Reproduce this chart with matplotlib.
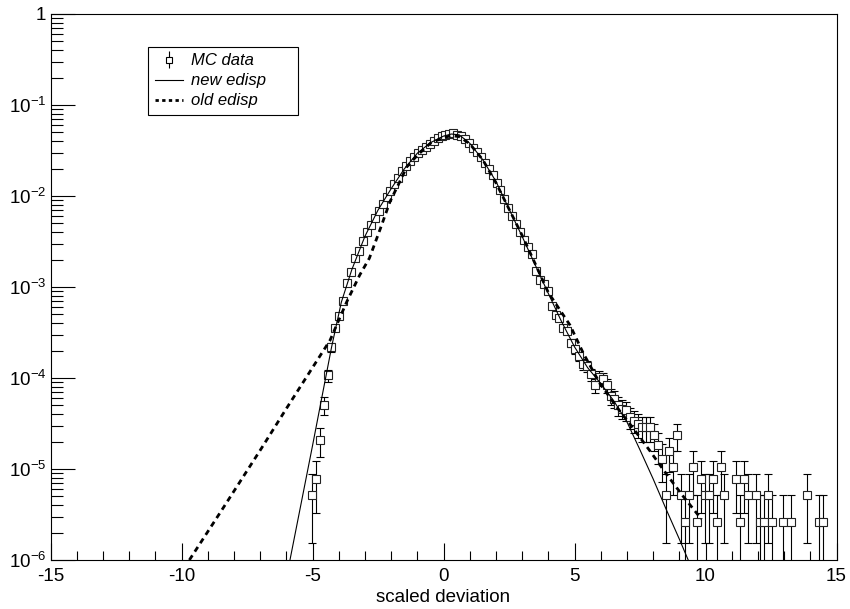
import numpy as np
import matplotlib
matplotlib.use("Agg")
import matplotlib.pyplot as plt
from matplotlib.ticker import MultipleLocator, LogLocator, FixedLocator, NullFormatter

plt.rcParams['font.family'] = ['Liberation Sans', 'DejaVu Sans']
plt.rcParams['mathtext.fontset'] = 'custom'
plt.rcParams['mathtext.rm'] = 'Liberation Sans'
plt.rcParams['mathtext.it'] = 'Liberation Sans:italic'
plt.rcParams['mathtext.default'] = 'regular'
plt.rcParams['axes.unicode_minus'] = False

# MC histogram (bin width 0.15), bin centres and contents
mc_x = [-5.025, -4.875, -4.725, -4.575, -4.425, -4.275, -4.125, -3.975, -3.825, -3.675,
        -3.525, -3.375, -3.225, -3.075, -2.925, -2.775, -2.625, -2.475, -2.325, -2.175,
        -2.025, -1.875, -1.725, -1.575, -1.425, -1.275, -1.125, -0.975, -0.825, -0.675,
        -0.525, -0.375, -0.225, -0.075, 0.075, 0.225, 0.375, 0.525, 0.675, 0.825,
        0.975, 1.125, 1.275, 1.425, 1.575, 1.725, 1.875, 2.025, 2.175, 2.325,
        2.475, 2.625, 2.775, 2.925, 3.075, 3.225, 3.375, 3.525, 3.675, 3.825,
        3.975, 4.125, 4.275, 4.425, 4.575, 4.725, 4.875, 5.025, 5.175, 5.325,
        5.475, 5.625, 5.775, 5.925, 6.075, 6.225, 6.375, 6.525, 6.675, 6.825,
        6.975, 7.125, 7.275, 7.425, 7.575, 7.725, 7.875, 8.025, 8.175, 8.325,
        8.475, 8.625, 8.775, 8.925, 9.075, 9.225, 9.375, 9.525, 9.675, 9.825,
        9.975, 10.125, 10.275, 10.425, 10.575, 10.725, 11.175, 11.325, 11.475, 11.625,
        11.925, 12.075, 12.225, 12.375, 12.525, 12.975, 13.275, 13.875, 14.325, 14.475]
mc_y = [5.2e-6, 7.8e-6, 2.1e-5, 5.1e-5, 1.07e-4, 2.19e-4, 3.55e-4, 4.79e-4, 7.08e-4, 1.12e-3,
        1.45e-3, 2.07e-3, 2.51e-3, 3.20e-3, 3.98e-3, 4.79e-3, 5.69e-3, 6.84e-3, 8.13e-3, 9.66e-3,
        1.148e-2, 1.35e-2, 1.585e-2, 1.86e-2, 2.16e-2, 2.44e-2, 2.71e-2, 2.95e-2, 3.22e-2, 3.49e-2,
        3.76e-2, 4.05e-2, 4.31e-2, 4.52e-2, 4.73e-2, 4.86e-2, 4.90e-2, 4.73e-2, 4.51e-2, 4.20e-2,
        3.82e-2, 3.40e-2, 3.01e-2, 2.65e-2, 2.32e-2, 1.98e-2, 1.70e-2, 1.40e-2, 1.17e-2, 9.23e-3,
        7.41e-3, 6.0e-3, 4.9e-3, 4.02e-3, 3.31e-3, 2.77e-3, 2.29e-3, 1.51e-3, 1.20e-3, 1.07e-3,
        9.1e-4, 6.2e-4, 4.9e-4, 4.57e-4, 3.55e-4, 3.31e-4, 2.45e-4, 2.09e-4, 1.74e-4, 1.41e-4,
        1.35e-4, 1.10e-4, 8.3e-5, 1.02e-4, 9.8e-5, 8.3e-5, 6.3e-5, 5.9e-5, 5.0e-5, 4.6e-5,
        4.4e-5, 3.7e-5, 3.4e-5, 3.1e-5, 2.86e-5, 2.86e-5, 2.86e-5, 2.34e-5, 1.82e-5, 1.3e-5,
        5.2e-6, 1.56e-5, 1.04e-5, 2.34e-5, 5.2e-6, 2.6e-6, 5.2e-6, 1.04e-5, 2.6e-6, 7.8e-6,
        5.2e-6, 5.2e-6, 7.8e-6, 2.6e-6, 1.04e-5, 5.2e-6, 7.8e-6, 2.6e-6, 7.8e-6, 5.2e-6,
        5.2e-6, 2.6e-6, 2.6e-6, 5.2e-6, 2.6e-6, 2.6e-6, 2.6e-6, 5.2e-6, 2.6e-6, 2.6e-6]
weight = 2.6e-6  # content of a single MC event

# model curves
new_x = [-5.86, -5.0, -4.27, -3.9, -3.5, -3.0, -2.5, -2.0, -1.5, -1.0, -0.5, 0.0, 0.3,
         0.6, 1.0, 1.5, 2.0, 2.5, 3.0, 3.5, 4.0, 4.5, 5.0, 5.5, 6.0, 6.5, 7.0, 7.5,
         8.0, 8.5, 9.0, 9.34]
new_y = [1e-6, 1.8e-5, 2.2e-4, 6.8e-4, 1.55e-3, 3.6e-3, 7.0e-3, 1.2e-2, 1.98e-2, 2.95e-2,
         3.85e-2, 4.55e-2, 4.8e-2, 4.7e-2, 3.8e-2, 2.5e-2, 1.45e-2, 7.2e-3, 3.6e-3, 1.75e-3,
         8.5e-4, 4.2e-4, 2.2e-4, 1.3e-4, 8.7e-5, 5.6e-5, 3.3e-5, 1.62e-5, 7.8e-6, 3.6e-6,
         1.7e-6, 1.0e-6]
old_x = [-9.7, -8.5, -7.0, -6.0, -5.0, -4.33, -3.69, -3.2, -2.83, -2.42, -2.04, -1.73,
         -1.40, -1.0, -0.5, 0.0, 0.3, 0.6, 1.0, 1.5, 2.0, 2.5, 3.0, 3.5, 4.0, 4.83,
         5.34, 5.97, 6.61, 7.24, 7.88, 8.52, 9.15, 9.85]
old_y = [1e-6, 3.4e-6, 1.6e-5, 4.6e-5, 1.3e-4, 2.6e-4, 6.9e-4, 1.35e-3, 2.07e-3, 4.3e-3,
         8.7e-3, 1.32e-2, 2.09e-2, 2.8e-2, 3.8e-2, 4.4e-2, 4.6e-2, 4.5e-2, 3.75e-2, 2.5e-2,
         1.4e-2, 7.2e-3, 3.7e-3, 1.8e-3, 8.7e-4, 3.8e-4, 1.86e-4, 8.7e-5, 4.8e-5, 2.8e-5,
         1.58e-5, 8.7e-6, 5.0e-6, 2.8e-6]

y_ticks = [1e-6, 1e-5, 1e-4, 1e-3, 1e-2, 1e-1, 1]
y_ticklabels = ['$10^{-6}$', '$10^{-5}$', '$10^{-4}$', '$10^{-3}$', '$10^{-2}$', '$10^{-1}$', '1']

mc_x = np.array(mc_x)
mc_y = np.array(mc_y)
err = np.sqrt(mc_y * weight)
err_lo = mc_y - np.maximum(mc_y - err, 1e-9)

fig = plt.figure(figsize=(8.5, 6.09), dpi=100)
ax = fig.add_axes([50.5 / 850, 49 / 609, 786 / 850, 546 / 609])

ax.errorbar(mc_x, mc_y, yerr=[err_lo, err], fmt='none', ecolor='black',
            elinewidth=0.8, capsize=2.8, capthick=0.8, zorder=2)
ax.plot(mc_x, mc_y, 's', ms=5.8, mfc='white', mec='#222222', mew=0.8, zorder=3)
ax.plot(new_x, new_y, '-', color='black', lw=0.8, zorder=4)
ax.plot(old_x, old_y, color='black', lw=2.0, dashes=(2, 1.6), zorder=4)

ax.set_yscale('log')
ax.set_xlim(-15, 15)
ax.set_ylim(1e-6, 1)
ax.xaxis.set_major_locator(MultipleLocator(5))
ax.xaxis.set_minor_locator(MultipleLocator(1))
ax.yaxis.set_major_locator(FixedLocator(y_ticks))
ax.set_yticklabels(y_ticklabels)
ax.yaxis.set_minor_locator(LogLocator(base=10, subs=np.arange(2, 10)))
ax.yaxis.set_minor_formatter(NullFormatter())

ax.tick_params(axis='both', which='both', direction='in', top=False, right=False,
               width=0.8, colors='black', labelsize=13.5)
ax.tick_params(axis='y', which='major', length=17.5, pad=3)
ax.tick_params(axis='y', which='minor', length=8.7)
ax.tick_params(axis='x', which='major', length=12.5, pad=6)
ax.tick_params(axis='x', which='minor', length=6.3)
for s in ax.spines.values():
    s.set_linewidth(0.8)

ax.set_xlabel('scaled deviation', fontsize=13.5, labelpad=3)

# legend built from proxy handles
h_mc = ax.errorbar([], [], yerr=[], fmt='s', ms=5.0, mfc='white', mec='black', mew=0.8,
                   ecolor='black', elinewidth=0.8, capsize=2.5)
h_new, = ax.plot([], [], '-', color='black', lw=0.8)
h_old, = ax.plot([], [], color='black', lw=2.0, dashes=(1.2, 1.2))
leg = ax.legend([h_mc, h_new, h_old], ['MC data', 'new edisp', 'old edisp'],
                loc='upper left', bbox_to_anchor=(0.124, 0.811, 0.191, 0.129),
                mode='expand', borderaxespad=0,
                fancybox=False, edgecolor='black', framealpha=1,
                prop={'style': 'italic', 'size': 12}, handlelength=1.7,
                handletextpad=0.5, borderpad=0.4, labelspacing=0.3)
leg.get_frame().set_linewidth(0.8)

fig.savefig('out.png', dpi=100)
